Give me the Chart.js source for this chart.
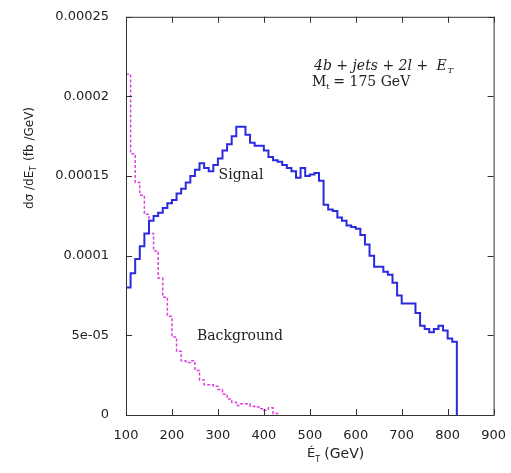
<!DOCTYPE html>
<html>
<head>
<meta charset="utf-8">
<script src="https://cdn.jsdelivr.net/npm/chart.js@4"></script>
<style>
  html, body { margin: 0; padding: 0; background: #fff; }
  canvas { display: block; }
</style>
</head>
<body>
<canvas id="chart" width="511" height="473"></canvas>
<script>
// Histogrammes missing-ET, bins de 10 GeV (bord gauche)
const binWidth = 10;
const sigStart = 100;
const bkgStart = 100;

const signalValues = [
  8.0e-5, 8.9e-5, 9.8e-5, 10.6e-5, 11.4e-5, 12.2e-5, 12.5e-5, 12.7e-5, 13.0e-5, 13.3e-5,
  13.5e-5, 13.9e-5, 14.2e-5, 14.6e-5, 15.0e-5, 15.4e-5, 15.8e-5, 15.5e-5, 15.3e-5, 15.7e-5,
  16.1e-5, 16.6e-5, 17.0e-5, 17.5e-5, 18.1e-5, 18.1e-5, 17.6e-5, 17.1e-5, 16.9e-5, 16.9e-5,
  16.6e-5, 16.2e-5, 16.0e-5, 15.9e-5, 15.7e-5, 15.5e-5, 15.3e-5, 14.9e-5, 15.5e-5, 15.0e-5,
  15.1e-5, 15.2e-5, 14.7e-5, 13.2e-5, 12.9e-5, 12.8e-5, 12.4e-5, 12.2e-5, 11.9e-5, 11.8e-5,
  11.7e-5, 11.3e-5, 10.7e-5, 10.0e-5, 9.3e-5, 9.3e-5, 9.0e-5, 8.8e-5, 8.3e-5, 7.5e-5,
  7.0e-5, 7.0e-5, 7.0e-5, 6.4e-5, 5.6e-5, 5.4e-5, 5.2e-5, 5.4e-5, 5.6e-5, 5.3e-5,
  4.8e-5, 4.6e-5
];

const backgroundValues = [
  21.4e-5, 16.4e-5, 14.6e-5, 13.8e-5, 12.6e-5, 11.4e-5, 10.3e-5, 8.6e-5, 7.4e-5, 6.2e-5,
  4.9e-5, 4.0e-5, 3.4e-5, 3.3e-5, 3.4e-5, 2.8e-5, 2.2e-5, 1.9e-5, 1.9e-5, 1.8e-5,
  1.6e-5, 1.3e-5, 1.0e-5, 0.8e-5, 0.6e-5, 0.7e-5, 0.7e-5, 0.55e-5, 0.5e-5, 0.4e-5,
  0.3e-5, 0.45e-5, 0.1e-5
];

const xTicks = [100, 200, 300, 400, 500, 600, 700, 800, 900];
const yTicks = [0, 0.00005, 0.0001, 0.00015, 0.0002, 0.00025];
const yTickLabels = ['0', '5e-05', '0.0001', '0.00015', '0.0002', '0.00025'];

const SIGNAL_COLOR = '#2a2ae0';
const BKG_COLOR = '#e040e0';
const AXIS_COLOR = '#333';

// points en escalier : bord gauche de chaque bin, puis fermeture a zero
function histPoints(start, values) {
  const pts = values.map((v, i) => ({ x: start + i * binWidth, y: v }));
  const end = start + values.length * binWidth;
  pts.push({ x: end, y: values[values.length - 1] });
  pts.push({ x: end, y: 0 });
  return pts;
}

// cadre + ticks vers l'interieur sur les 4 cotes
const frameTicks = {
  id: 'frameTicks',
  afterDraw(chart) {
    const { ctx, chartArea: a, scales } = chart;
    const len = 6;
    ctx.save();
    ctx.strokeStyle = AXIS_COLOR;
    ctx.lineWidth = 1;
    ctx.strokeRect(a.left + 0.5, a.top + 0.5, a.right - a.left, a.bottom - a.top);
    ctx.beginPath();
    xTicks.forEach(t => {
      const px = Math.round(scales.x.getPixelForValue(t)) + 0.5;
      ctx.moveTo(px, a.bottom); ctx.lineTo(px, a.bottom - len);
      ctx.moveTo(px, a.top); ctx.lineTo(px, a.top + len);
    });
    yTicks.forEach(t => {
      const py = Math.round(scales.y.getPixelForValue(t)) + 0.5;
      ctx.moveTo(a.left, py); ctx.lineTo(a.left + len, py);
      ctx.moveTo(a.right, py); ctx.lineTo(a.right - len, py);
    });
    ctx.stroke();
    ctx.restore();
  }
};

// textes : annotations + titres d'axes
const labels = {
  id: 'labels',
  afterDraw(chart) {
    const { ctx } = chart;
    ctx.save();
    ctx.fillStyle = '#222';
    ctx.textBaseline = 'middle';

    // annotation en haut a droite
    ctx.font = 'italic 14px "DejaVu Serif"';
    ctx.textAlign = 'left';
    const s1 = '4b + jets + 2l + ';
    ctx.fillText(s1, 314, 66);
    const w = ctx.measureText(s1).width;
    const xE = 314 + w + 4;
    ctx.fillText('E', xE, 66);
    const wE = ctx.measureText('E').width;
    ctx.font = 'italic 8px "DejaVu Serif"';
    ctx.fillText('T', xE + wE + 1, 71);

    ctx.font = '14px "DejaVu Serif"';
    ctx.fillText('M', 312, 82);
    const wM = ctx.measureText('M').width;
    ctx.font = '8px "DejaVu Serif"';
    ctx.fillText('t', 312 + wM, 87);
    ctx.font = '14px "DejaVu Serif"';
    ctx.fillText('= 175 GeV', 312 + wM + 7, 82);

    ctx.font = '14px "DejaVu Serif"';
    ctx.textAlign = 'center';
    ctx.fillText('Signal', 241, 175);
    ctx.fillText('Background', 240, 336);

    // titre axe x
    ctx.font = '13px "DejaVu Sans"';
    ctx.textAlign = 'left';
    ctx.fillText('\u00c9', 307, 454);
    const wEx = ctx.measureText('\u00c9').width;
    ctx.font = '8px "DejaVu Sans"';
    ctx.fillText('T', 307 + wEx, 460);
    ctx.font = '14px "DejaVu Sans"';
    ctx.fillText('(GeV)', 307 + wEx + 9, 454);

    // titre axe y (tourne)
    ctx.translate(30, 158);
    ctx.rotate(-Math.PI / 2);
    ctx.font = '12px "DejaVu Sans"';
    ctx.textAlign = 'left';
    const p1 = 'd\u03c3 /dE';
    const wp1 = ctx.measureText(p1).width;
    const total = wp1 + 6 + ctx.measureText(' (fb /GeV)').width;
    const x0 = -total / 2;
    ctx.fillText(p1, x0, 0);
    ctx.font = '8px "DejaVu Sans"';
    ctx.fillText('T', x0 + wp1, 4);
    ctx.font = '12px "DejaVu Sans"';
    ctx.fillText(' (fb /GeV)', x0 + wp1 + 6, 0);
    ctx.restore();
  }
};

new Chart(document.getElementById('chart'), {
  type: 'line',
  data: {
    datasets: [
      {
        label: 'Signal',
        data: histPoints(sigStart, signalValues),
        borderColor: SIGNAL_COLOR,
        borderWidth: 2,
        pointRadius: 0,
        stepped: 'before',
        fill: false
      },
      {
        label: 'Background',
        data: histPoints(bkgStart, backgroundValues),
        borderColor: BKG_COLOR,
        borderWidth: 1.5,
        borderDash: [3, 2],
        pointRadius: 0,
        stepped: 'before',
        fill: false
      }
    ]
  },
  options: {
    responsive: false,
    animation: false,
    layout: { padding: { top: 15, right: 15, left: 0, bottom: 0 } },
    plugins: {
      legend: { display: false },
      tooltip: { enabled: false }
    },
    scales: {
      x: {
        type: 'linear',
        min: 100,
        max: 900,
        afterBuildTicks: s => { s.ticks = xTicks.map(v => ({ value: v })); },
        afterFit: s => { s.height = 58; },
        grid: { display: false },
        border: { display: false },
        ticks: {
          color: '#222',
          padding: 5,
          maxRotation: 0,
          font: { family: 'DejaVu Sans', size: 13 }
        }
      },
      y: {
        min: 0,
        max: 0.00025,
        afterBuildTicks: s => { s.ticks = yTicks.map(v => ({ value: v })); },
        afterFit: s => { s.width = 126; },
        grid: { display: false },
        border: { display: false },
        ticks: {
          color: '#222',
          padding: 9,
          font: { family: 'DejaVu Sans', size: 13 },
          callback: (v) => {
            const i = yTicks.findIndex(t => Math.abs(t - v) < 1e-9);
            return i >= 0 ? yTickLabels[i] : '';
          }
        }
      }
    }
  },
  plugins: [frameTicks, labels]
});
</script>
</body>
</html>
